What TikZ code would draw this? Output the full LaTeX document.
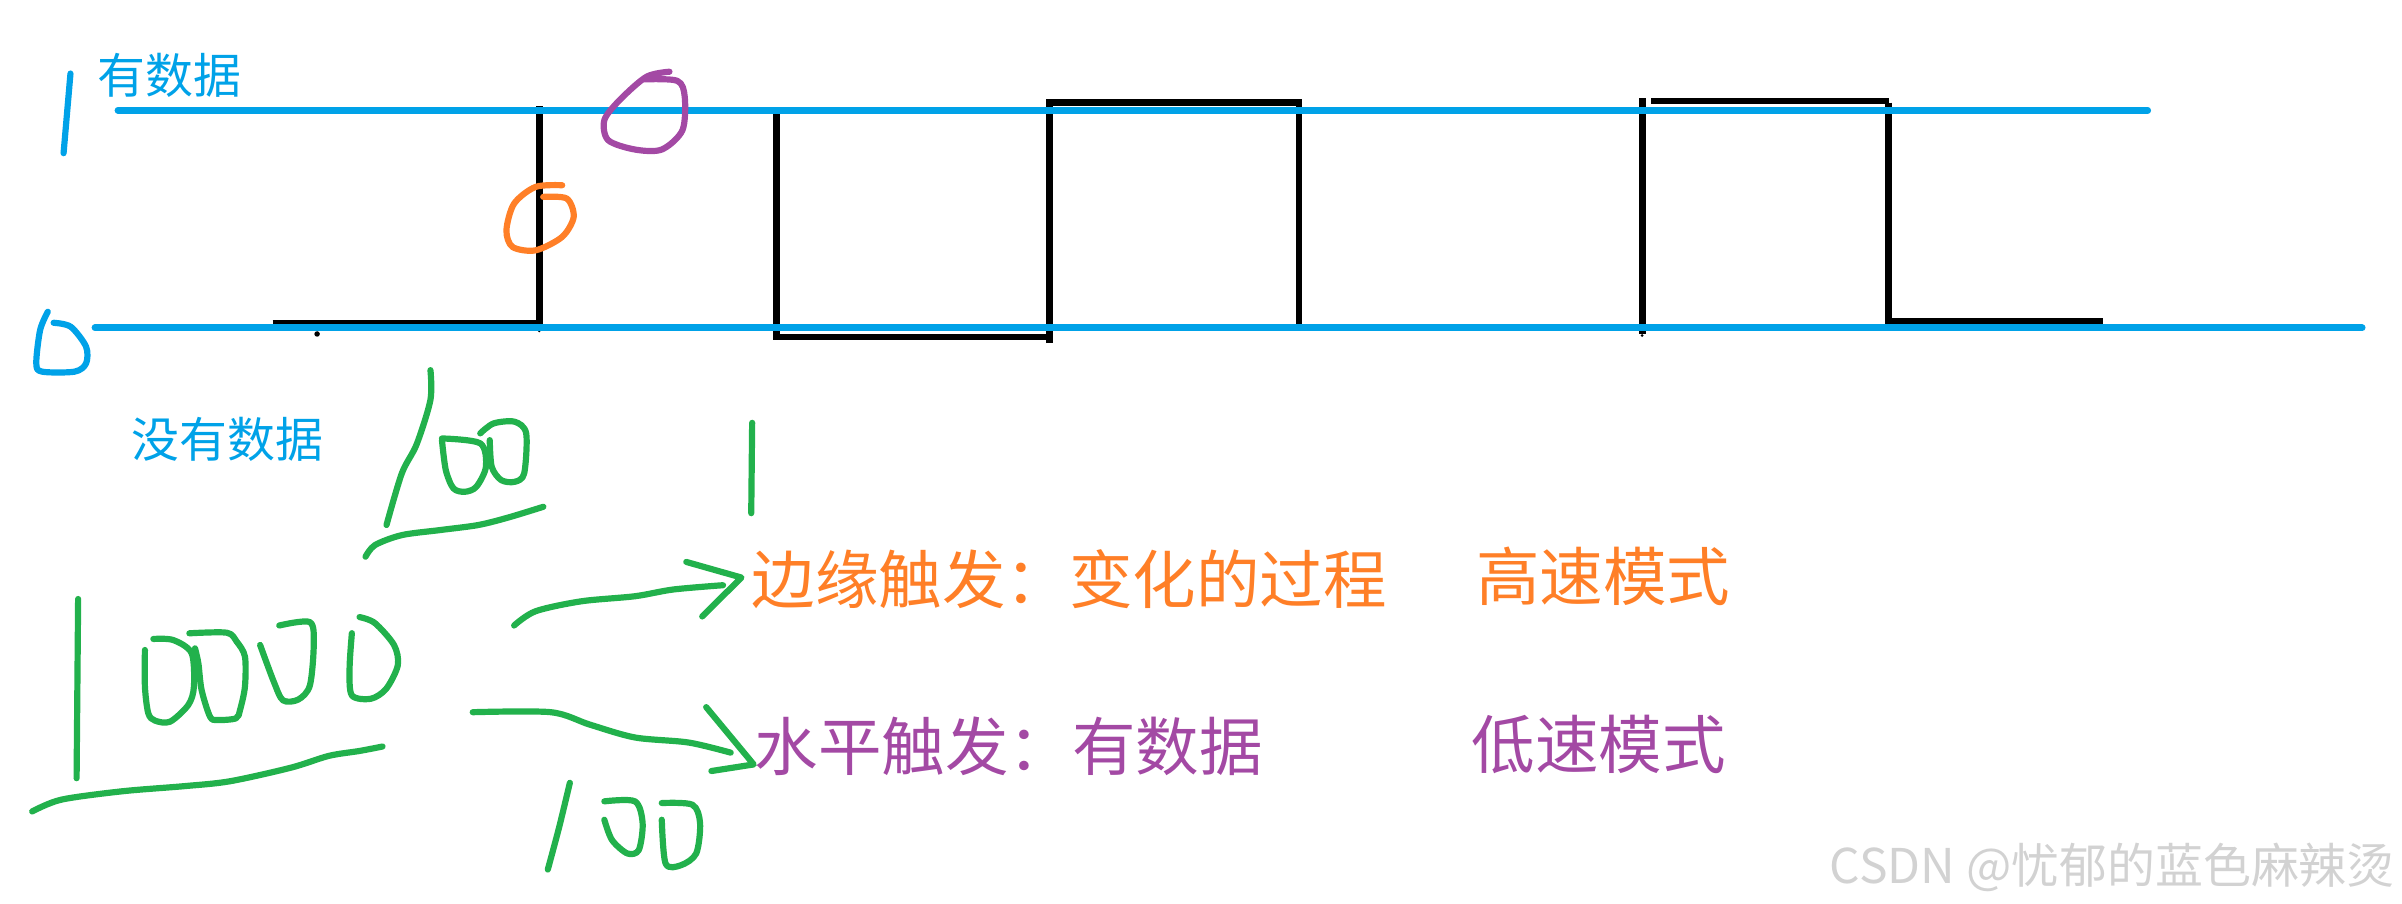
\documentclass[tikz,border=0pt]{standalone}
\usepackage{fontspec}
\setmainfont{Noto Sans CJK SC}
\usetikzlibrary{positioning}
\definecolor{lanse}{HTML}{00A2E8}
\definecolor{chengse}{HTML}{FF7F27}
\definecolor{zise}{HTML}{A349A4}
\definecolor{lvse}{HTML}{22B14C}
\definecolor{shuiyin}{HTML}{D2D2D2}
\tikzset{
  jizhun/.style={draw=lanse, line width=1.25pt, line cap=round},
  xinhao/.style={draw=black, line width=1.25pt},
  bi/.style={line width=1.15pt, line cap=round, line join=round},
  wenzi/.style={anchor=west, inner sep=0pt, font=\fontsize{11.8pt}{12pt}\selectfont},
  biaoqian/.style={anchor=west, inner sep=0pt, text=lanse, font=\fontsize{8.9pt}{9pt}\selectfont}
}
\begin{document}
\begin{tikzpicture}[x=0.1mm, y=-0.1mm]
\useasboundingbox (0,0) rectangle (1568,590);
\node[biaoqian] (you) at (63,49) {有数据};
\node[biaoqian] (mei) at (85,287) {没有数据};
\node[wenzi, text=chengse] (bianyuan) at (490,378) {边缘触发：变化的过程};
\node[wenzi, text=chengse] (gaosu) at (963,376) {高速模式};
\node[wenzi, text=zise] (shuiping) at (492,487) {水平触发：有数据};
\node[wenzi, text=zise] (disu) at (960,486) {低速模式};
\node[anchor=east, inner sep=0pt, text=shuiyin, font=\fontsize{8.9pt}{9pt}\selectfont] (csdn) at (1564,566) {CSDN @忧郁的蓝色麻辣烫};
\coordinate (g1) at (77,72);
\coordinate (g2) at (1402,72);
\coordinate (d1) at (62,214);
\coordinate (d2) at (1542,214);
\coordinate (jian1) at (484,377);
\coordinate (jian2) at (492,499);
\draw[xinhao] (178,211) -- (352,211) -- (352,69);
\draw[xinhao] (507,74) -- (507,220) -- (685,220);
\draw[xinhao] (685,224) -- (685,67) -- (848,67) -- (848,212);
\draw[xinhao] (1072,64) -- (1072,218);
\draw[xinhao] (1078,66) -- (1233,66);
\draw[xinhao] (1233,67) -- (1233,210) -- (1373,210);
\fill (207,218) circle (1.8);
\fill (352,216) circle (1);
\fill (1072,219) circle (1);
\draw[jizhun] (g1) -- (g2);
\draw[jizhun] (d1) -- (d2);
\draw[bi, lanse] (46,48) -- (41.5,100);
\draw[bi, lanse] plot[smooth] coordinates {(31.2,203.5) (26.2,215.4) (23.7,237.2) (27.5,242.6) (48.7,242.6) (56.2,237.2) (56.2,226.3) (46.2,213.3) (35,210.7)};
\draw[bi, chengse] plot[smooth] coordinates {(354.6,128.5) (370,129.6) (374.5,141.6) (367,154.6) (349.6,163.4) (334.6,161.2) (330.6,150.3) (335.6,132.9) (349.6,122) (367,120.9)};
\draw[bi, zise] plot[smooth] coordinates {(419.5,51.8) (442,52.7) (447,63.2) (445.5,85) (432,97.6) (414.5,97.6) (397,91.5) (394.5,78.4) (404.5,65.3) (422,50.1) (437,46.8)};
\draw[bi, lvse] plot[smooth] coordinates {(281,241.6) (281,261) (272,290) (262.3,309) (252.3,342.7)};
\draw[bi, lvse] plot[smooth] coordinates {(288.5,286.2) (313.5,289.4) (317.2,304.7) (311,317.7) (303.5,321) (296,318.8) (291,306.8) (288.5,287.3)};
\draw[bi, lvse] plot[smooth] coordinates {(313.5,282.9) (322.2,276.4) (336,275.3) (343.5,282.9) (342.2,309) (336,314.5) (327.2,313.4) (321,304.7) (319.7,287.3)};
\draw[bi, lvse] plot[smooth] coordinates {(238.6,363.4) (244.8,355.8) (262.3,349.3) (287.3,346) (312.3,342.7) (332.2,337.7) (354.7,330.8)};
\draw[bi, lvse] (491,276) -- (490.4,335);
\draw[bi, lvse] (51,391) -- (50,508);
\draw[bi, lvse] plot[smooth] coordinates {(100.1,417.1) (113.1,417.8) (125.1,426.4) (126.6,448.2) (122.9,460.2) (111,471.1) (101.2,470.4) (96.8,465.6) (94.6,448.2) (94.6,424.3)};
\draw[bi, lvse] plot[smooth] coordinates {(123.6,413.4) (148,413) (154.5,418.8) (159.9,428.6) (159.9,448.2) (156.7,463.4) (154,468.9) (141.9,470) (137.1,467.8) (131.6,450.4) (129.5,433) (127.3,423.2)};
\draw[bi, lvse] plot[smooth] coordinates {(182.3,408.3) (202.3,406.1) (204.8,421) (202.3,447.4) (194.8,456.6) (184.8,457.2) (178.8,445.2) (169.8,421)};
\draw[bi, lvse] plot[smooth] coordinates {(234.7,402.8) (244.7,406.7) (257.2,421) (259.7,434.2) (252.2,449.5) (242.2,456.1) (229.7,453.9) (228.2,436.4) (229.7,413.3)};
\draw[bi, lvse] plot[smooth] coordinates {(21,529.7) (40,522) (80,516.5) (120,513.2) (150,510) (190,501.1) (214.7,493.4) (234.7,490.2) (249.7,487.3)};
\draw[bi, lvse] plot[smooth] coordinates {(335.6,408.3) (349.6,399) (379.5,392.5) (414.5,389.2) (439.5,384.8) (472,382)};
\draw[bi, lvse] (448,366.8) -- (jian1) -- (458.4,402.4);
\draw[bi, lvse] plot[smooth] coordinates {(308.6,464.9) (359.6,464.9) (385,473) (414.5,481.4) (449.5,484.7) (477,491.3)};
\draw[bi, lvse] (461,461.6) -- (jian2) -- (464.4,503.3);
\draw[bi, lvse] plot[smooth] coordinates {(372,511) (365,540) (357.6,567.6)};
\draw[bi, lvse] plot[smooth] coordinates {(394.5,523.1) (414.5,523.1) (419.5,537.3) (417,554.9) (409.5,557.1) (399.5,548.3) (394.5,535.1)};
\draw[bi, lvse] plot[smooth] coordinates {(432,524.2) (452,525.3) (457,537.3) (454.5,557.1) (444.5,564.8) (434.5,563.7) (432,535.1)};
\end{tikzpicture}
\end{document}
